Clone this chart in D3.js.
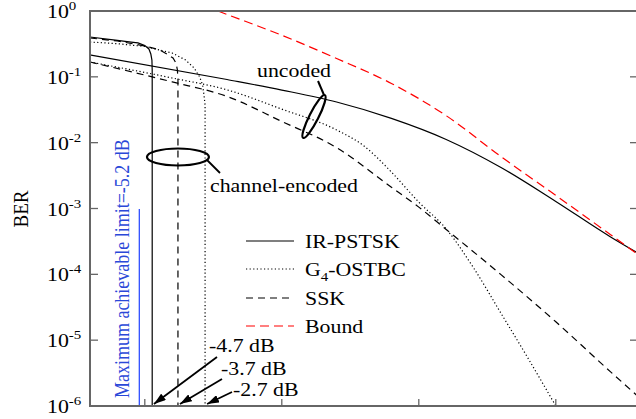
<!DOCTYPE html>
<html>
<head>
<meta charset="utf-8">
<script src="https://cdn.jsdelivr.net/npm/d3@7"></script>
<style>
    body { margin: 0; background: #fff; }
    svg { display: block; font-family: "Liberation Serif", "Times New Roman", serif; }
</style>
</head>
<body>
<svg width="636" height="419"></svg>
<script>
// SNR (dB) / BER
const snrIrUncoded = [-7, -2, 0, 2, 4, 6, 8, 10, 12, 13];
const berIrUncoded = [0.215, 0.091, 0.063, 0.0415, 0.0234, 0.0112, 0.0042, 0.00128, 3.7e-4, 2.1e-4];

const snrSskUncoded = [-7, -4, -2, 0, 2, 4, 5, 6, 8, 10, 12, 13];
const berSskUncoded = [0.168, 0.0838, 0.0504, 0.021, 0.0084, 0.0021, 0.00105, 4.8e-4, 9.9e-5, 1.9e-5, 3.3e-6, 1.4e-6];

const snrG4Uncoded = [-7, -4, -2, 0, 2, 3, 4, 5, 6, 7, 8, 9, 10];
const berG4Uncoded = [0.168, 0.096, 0.0635, 0.0323, 0.0156, 0.0089, 0.00358, 0.00125, 4.9e-4, 1.25e-4, 2.56e-5, 5.2e-6, 1e-6];

const snrBound = [-2.33, -2, 0, 2, 4, 6, 8, 10, 12, 13];
const berBound = [1.0, 0.887, 0.428, 0.19, 0.0794, 0.0257, 0.00614, 0.00158, 4.0e-4, 2.0e-4];

const snrIrCoded = [-7, -6, -5.5, -5.25, -5.0, -4.85, -4.78, -4.74, -4.73, -4.73];
const berIrCoded = [0.403, 0.357, 0.337, 0.327, 0.299, 0.265, 0.222, 0.18, 0.127, 1e-6];

const snrSskCoded = [-7, -6, -5, -4.49, -4.19, -3.97, -3.86, -3.81, -3.79, -3.79];
const berSskCoded = [0.389, 0.35, 0.294, 0.26, 0.222, 0.193, 0.162, 0.127, 0.0895, 1e-6];

const snrG4Coded = [-7, -6, -5, -4, -3.51, -3.2, -3.0, -2.89, -2.84, -2.8, -2.8];
const berG4Coded = [0.338, 0.319, 0.289, 0.23, 0.18, 0.136, 0.1, 0.075, 0.053, 0.0373, 1e-6];

const xTicks = [-5, 0, 5, 10];
const yTickExp = [0, -1, -2, -3, -4, -5, -6];

const limitSnr = -5.2;
const thresholdLabels = ["-4.7 dB", "-3.7 dB", "-2.7 dB"];
const thresholdSnr = [-4.74, -3.79, -2.8];

const legendNames = ["IR-PSTSK", "G4-OSTBC", "SSK", "Bound"];

const stretch = 1.15; // the figure is slightly stretched horizontally
const blue = "#2a48d8";

const svg = d3.select("svg");
const area = { left: 90, right: 638, top: 11, bottom: 406 };

const x = d3.scaleLinear().domain([-7, 13]).range([area.left, area.right]);
const y = d3.scaleLog().domain([1e-6, 1]).range([area.bottom, area.top]);

function addText(parent, px, py, rotate) {
    return parent
        .append("text")
        .attr("transform", `translate(${px},${py}) scale(${stretch},1)` + (rotate ? ` rotate(${rotate})` : ""))
        .style("font-size", "19px")
        .style("fill", "#000");
}

function toPoints(snr, ber) {
    return snr.map((s, i) => [s, ber[i]]);
}

const defs = svg.append("defs");
defs.append("clipPath")
    .attr("id", "plot-clip")
    .append("rect")
    .attr("x", area.left)
    .attr("y", area.top)
    .attr("width", area.right - area.left)
    .attr("height", area.bottom - area.top);

defs.append("marker")
    .attr("id", "arrow")
    .attr("viewBox", "0 0 12 8")
    .attr("refX", 12)
    .attr("refY", 4)
    .attr("markerWidth", 12)
    .attr("markerHeight", 8)
    .attr("markerUnits", "userSpaceOnUse")
    .attr("orient", "auto")
    .append("path")
    .attr("d", "M0,0 L12,4 L0,8 Z")
    .attr("fill", "#000");

// series (smooth = uncoded / bound curves)
const series = [
    { pts: toPoints(snrIrUncoded, berIrUncoded), color: "#000", dash: null, smooth: true },
    { pts: toPoints(snrG4Uncoded, berG4Uncoded), color: "#000", dash: "1.2,2.4", smooth: true },
    { pts: toPoints(snrSskUncoded, berSskUncoded), color: "#000", dash: "7,5", smooth: true },
    { pts: toPoints(snrIrCoded, berIrCoded), color: "#000", dash: null, smooth: false },
    { pts: toPoints(snrG4Coded, berG4Coded), color: "#000", dash: "1.2,2.4", smooth: false },
    { pts: toPoints(snrSskCoded, berSskCoded), color: "#000", dash: "7,5", smooth: false },
    { pts: toPoints(snrBound, berBound), color: "#ff0000", dash: "9,5", smooth: true }
];

const lineSmooth = d3.line().x((d) => x(d[0])).y((d) => y(d[1])).curve(d3.curveMonotoneX);
const lineStraight = d3.line().x((d) => x(d[0])).y((d) => y(d[1]));

const plot = svg.append("g").attr("clip-path", "url(#plot-clip)");
plot.selectAll("path.curve")
    .data(series)
    .enter()
    .append("path")
    .attr("class", "curve")
    .attr("d", (d) => (d.smooth ? lineSmooth(d.pts) : lineStraight(d.pts)))
    .attr("fill", "none")
    .attr("stroke", (d) => d.color)
    .attr("stroke-width", 1.2)
    .attr("stroke-dasharray", (d) => d.dash);

// limit line
plot.append("line")
    .attr("x1", x(limitSnr))
    .attr("x2", x(limitSnr))
    .attr("y1", 209)
    .attr("y2", area.bottom)
    .attr("stroke", "#3050ff")
    .attr("stroke-width", 1.3);

// frame and ticks
const axisColor = "#666";
svg.append("rect")
    .attr("x", area.left)
    .attr("y", area.top)
    .attr("width", area.right - area.left)
    .attr("height", area.bottom - area.top)
    .attr("fill", "none")
    .attr("stroke", axisColor)
    .attr("stroke-width", 2);

svg.selectAll("line.xtick")
    .data(xTicks)
    .enter()
    .append("line")
    .attr("x1", (d) => x(d))
    .attr("x2", (d) => x(d))
    .attr("y1", area.bottom)
    .attr("y2", area.bottom - 7)
    .attr("stroke", axisColor)
    .attr("stroke-width", 1.3);

svg.selectAll("line.ytickL")
    .data(yTickExp)
    .enter()
    .append("line")
    .attr("x1", area.left)
    .attr("x2", area.left + 8)
    .attr("y1", (d) => y(Math.pow(10, d)))
    .attr("y2", (d) => y(Math.pow(10, d)))
    .attr("stroke", axisColor)
    .attr("stroke-width", 1.3);

svg.selectAll("line.ytickR")
    .data(yTickExp)
    .enter()
    .append("line")
    .attr("x1", area.right)
    .attr("x2", area.right - 8)
    .attr("y1", (d) => y(Math.pow(10, d)))
    .attr("y2", (d) => y(Math.pow(10, d)))
    .attr("stroke", axisColor)
    .attr("stroke-width", 1.3);

yTickExp.forEach((e) => {
    const t = addText(svg, 47, y(Math.pow(10, e)) + 7);
    t.append("tspan").text("10");
    t.append("tspan").attr("dy", -8).style("font-size", "13px").text(String(e));
});

addText(svg, 28, 209, -90).attr("text-anchor", "middle").text("BER");

// blue limit label
addText(svg, 129, 398, -90)
    .style("font-size", "18px")
    .style("fill", blue)
    .text("Maximum achievable limit=-5.2 dB");

// legend
const legendY = [241, 269, 298, 326];
const legendStyles = [series[0], series[1], series[2], series[6]];
legendNames.forEach((name, i) => {
    svg.append("line")
        .attr("x1", 246)
        .attr("x2", 294)
        .attr("y1", legendY[i])
        .attr("y2", legendY[i])
        .attr("stroke", legendStyles[i].color)
        .attr("stroke-width", 1.2)
        .attr("stroke-dasharray", legendStyles[i].dash);
    const t = addText(svg, 305, legendY[i] + 7);
    if (name === "G4-OSTBC") {
        t.append("tspan").text("G");
        t.append("tspan").attr("dy", 5).style("font-size", "13px").text("4");
        t.append("tspan").attr("dy", -5).text("-OSTBC");
    } else {
        t.text(name);
    }
});

// uncoded annotation
addText(svg, 257, 77).text("uncoded");
svg.append("path")
    .attr("d", "M318,81 Q321,88 324,95")
    .attr("fill", "none")
    .attr("stroke", "#000")
    .attr("stroke-width", 2);
svg.append("ellipse")
    .attr("transform", "translate(314,116.5) rotate(-63)")
    .attr("rx", 24)
    .attr("ry", 4.5)
    .attr("fill", "none")
    .attr("stroke", "#000")
    .attr("stroke-width", 2.2);

// channel-encoded annotation
svg.append("ellipse")
    .attr("cx", x(-3.79))
    .attr("cy", 157)
    .attr("rx", 31)
    .attr("ry", 8.5)
    .attr("fill", "none")
    .attr("stroke", "#000")
    .attr("stroke-width", 2.2);
svg.append("line")
    .attr("x1", 207)
    .attr("y1", 160)
    .attr("x2", 220)
    .attr("y2", 173)
    .attr("stroke", "#000")
    .attr("stroke-width", 1.8);
addText(svg, 210, 192).text("channel-encoded");

// threshold arrows
const arrowStart = [[217, 357], [222, 379], [232, 392]];
const labelPos = [[209, 352], [221, 375], [233, 396]];
thresholdSnr.forEach((s, i) => {
    svg.append("line")
        .attr("x1", arrowStart[i][0])
        .attr("y1", arrowStart[i][1])
        .attr("x2", x(s) + 2)
        .attr("y2", area.bottom - 2)
        .attr("stroke", "#000")
        .attr("stroke-width", 1.8)
        .attr("marker-end", "url(#arrow)");
    addText(svg, labelPos[i][0], labelPos[i][1]).text(thresholdLabels[i]);
});
</script>
</body>
</html>
